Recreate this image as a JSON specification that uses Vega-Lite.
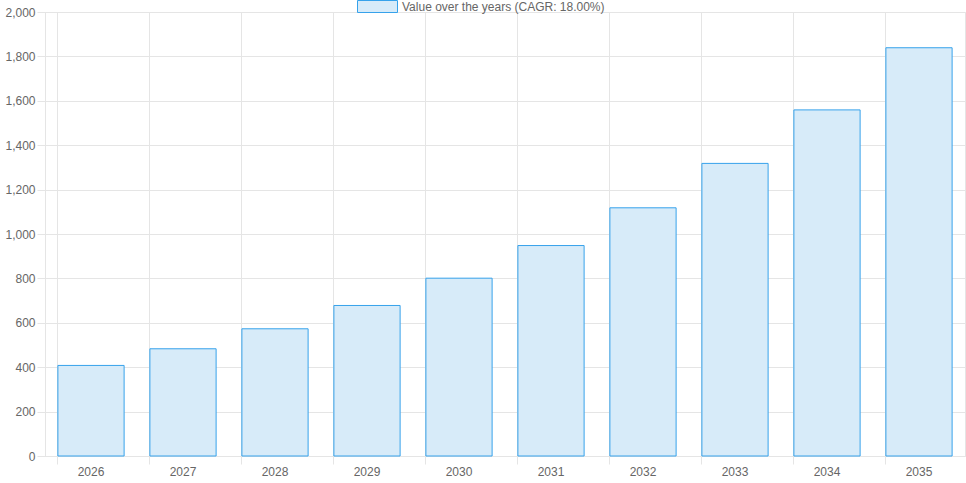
{
"$schema":"https://vega.github.io/schema/vega-lite/v6.json",
"width":966,"height":483,
"autosize":{"type":"fit","contains":"padding"},
"padding":{"left":4,"top":6,"right":1,"bottom":6},
"config":{"font":"Liberation Sans","view":{"stroke":"#e5e5e5"}},
"data":{"values":[
{"year":"2026","value":408,"s":"Value over the years (CAGR: 18.00%)"},
{"year":"2027","value":483,"s":"Value over the years (CAGR: 18.00%)"},
{"year":"2028","value":573,"s":"Value over the years (CAGR: 18.00%)"},
{"year":"2029","value":678,"s":"Value over the years (CAGR: 18.00%)"},
{"year":"2030","value":801,"s":"Value over the years (CAGR: 18.00%)"},
{"year":"2031","value":948,"s":"Value over the years (CAGR: 18.00%)"},
{"year":"2032","value":1118,"s":"Value over the years (CAGR: 18.00%)"},
{"year":"2033","value":1318,"s":"Value over the years (CAGR: 18.00%)"},
{"year":"2034","value":1559,"s":"Value over the years (CAGR: 18.00%)"},
{"year":"2035","value":1839,"s":"Value over the years (CAGR: 18.00%)"}
]},
"mark":{"type":"bar","stroke":"#36a2eb","strokeWidth":1,"fill":"#d7ebf9"},
"encoding":{
"x":{"field":"year","type":"ordinal","title":null,
"scale":{"paddingInner":0.28,"paddingOuter":0.14},
"axis":{"labelAngle":0,"labelColor":"#666","labelFontSize":12,"grid":true,"gridColor":"#e5e5e5","bandPosition":0,"tickColor":"#e5e5e5","domainColor":"#e5e5e5","tickSize":8,"labelPadding":2}},
"y":{"field":"value","type":"quantitative","title":null,
"scale":{"domain":[0,2000]},
"axis":{"values":[0,200,400,600,800,1000,1200,1400,1600,1800,2000],"labelOverlap":false,"labelColor":"#666","labelFontSize":12,"gridColor":"#e5e5e5","tickColor":"#e5e5e5","domainColor":"#e5e5e5","tickSize":8,"format":",.0f"}},
"color":{"field":"s","type":"nominal","title":null,
"scale":{"range":["#d7ebf9"]},
"legend":{"orient":"none","legendX":312,"legendY":-26,"labelLimit":400,"symbolType":"M-1,-0.3H1V0.3H-1Z","symbolSize":1600,"symbolStrokeColor":"#36a2eb","symbolStrokeWidth":1,"symbolFillColor":"#d7ebf9","labelColor":"#666","labelFontSize":12}}
}
}
